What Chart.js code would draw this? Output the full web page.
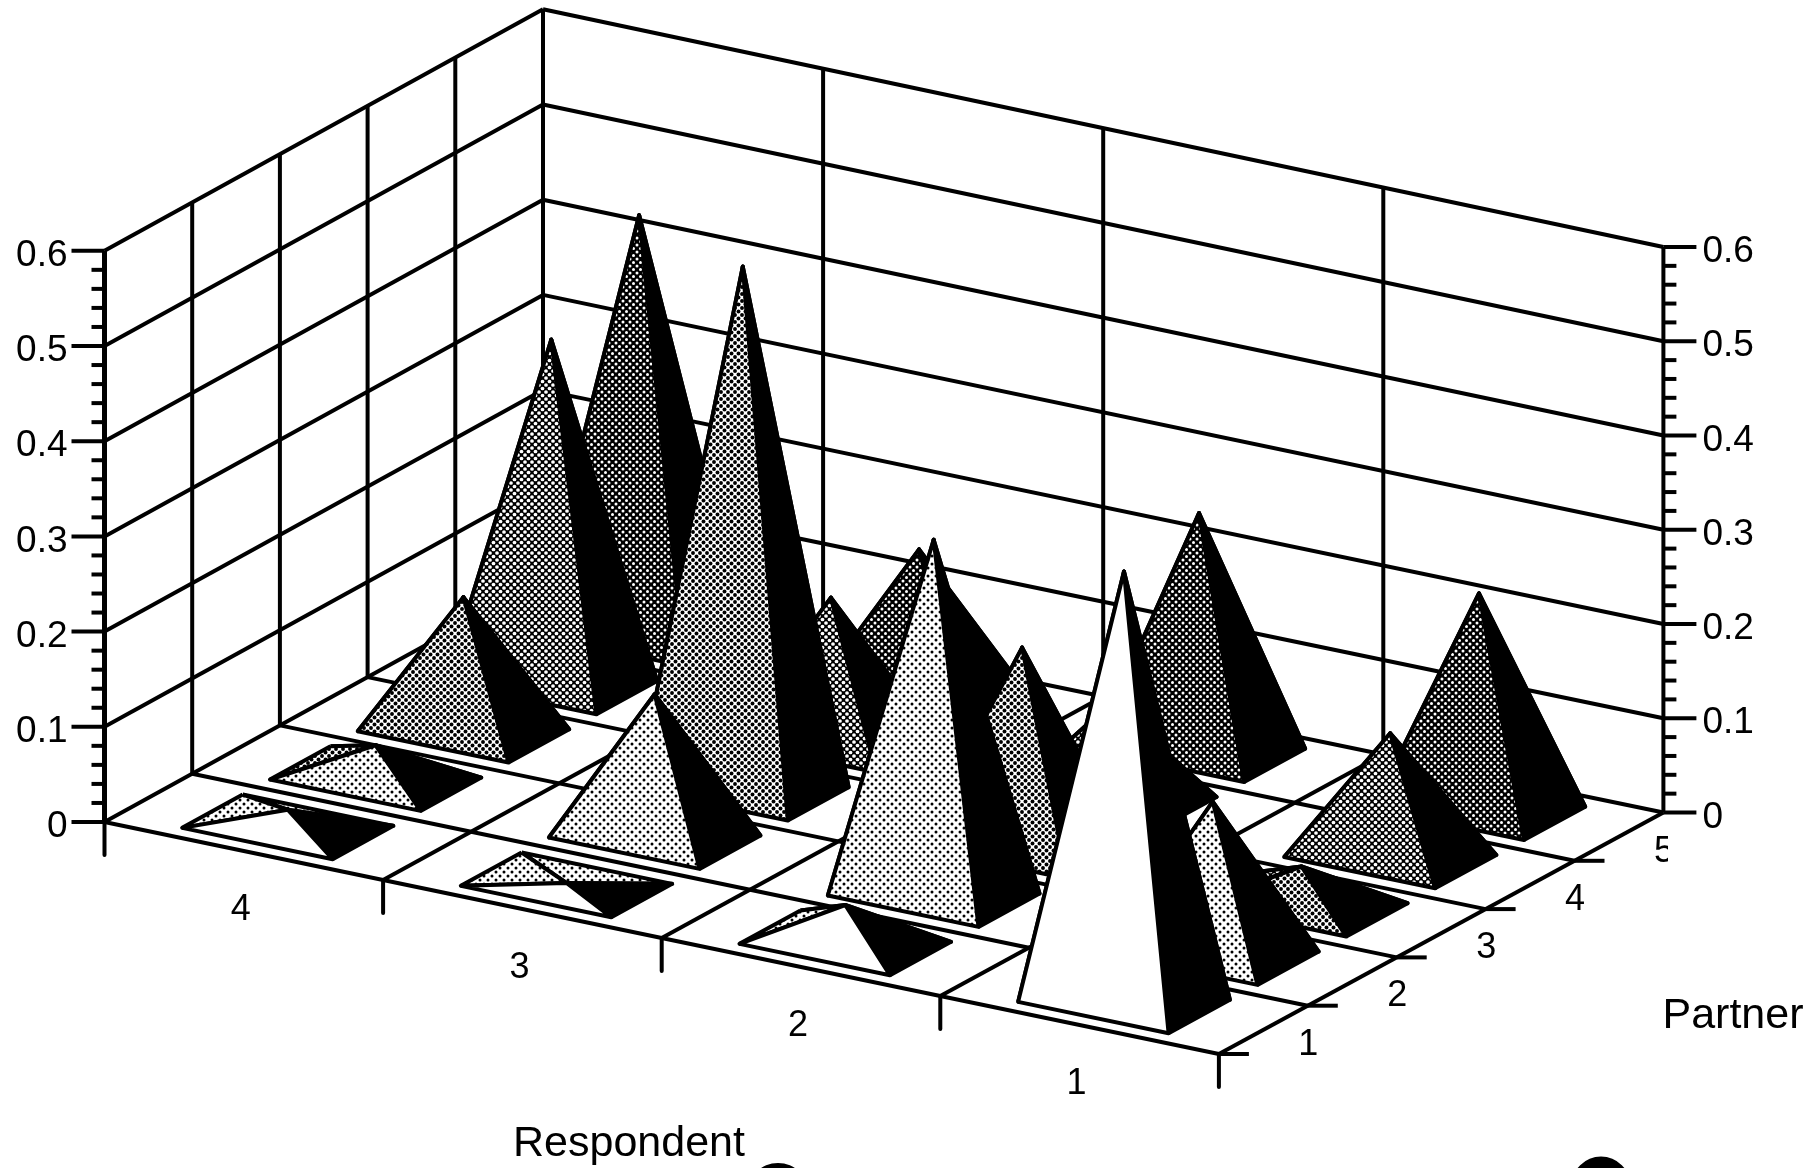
<!DOCTYPE html>
<html>
<head>
<meta charset="utf-8">
<title>Respondent / Partner</title>
<script src="https://cdn.jsdelivr.net/npm/chart.js@4/dist/chart.umd.min.js"></script>
<style>
  html, body { margin: 0; padding: 0; background: #fff; overflow: hidden; }
  canvas { display: block; }
</style>
</head>
<body>
<canvas id="chart" width="1820" height="1168"></canvas>
<script>
// values, one entry per partner (1..5)
const respondents = ["4", "3", "2", "1"];
const partners = ["1", "2", "3", "4", "5"];
const valueTicks = ["0", "0.1", "0.2", "0.3", "0.4", "0.5", "0.6"];
const respondent4 = [0.018, 0.035, 0.14, 0.36, 0.44];
const respondent3 = [0.002, 0.15, 0.55, 0.15, 0.15];
const respondent2 = [0.04, 0.375, 0.21, 0.1, 0.25];
const respondent1 = [0.455, 0.16, 0.04, 0.13, 0.227];
const valuesByRespondent = [respondent4, respondent3, respondent2, respondent1];

// projection of the box on the page, the small shear and shrink stand in for perspective
const origin = { x: 104.5, y: 822 };
const perRespondent = { x: 278.6, y: 58 };
const perPartner = { x: 87.7, y: -48.3 };
const perValue = 952;
const shear = 0.3;
const shrink = 0.0025;
const halfU = 0.27;
const halfW = 0.345;
const uMax = respondents.length;
const wMax = partners.length;

function project(u, w, v) {
    return {
        x: origin.x + u * perRespondent.x + w * perPartner.x + u * w * shear,
        y: origin.y + u * perRespondent.y + w * perPartner.y - v * perValue * (1 - shrink * u)
    };
}

function dots(size, dotColor, bgColor, r) {
    const c = document.createElement("canvas");
    c.width = size;
    c.height = size;
    const g = c.getContext("2d");
    g.fillStyle = bgColor;
    g.fillRect(0, 0, size, size);
    g.fillStyle = dotColor;
    [[0, 0], [size, 0], [0, size], [size, size], [size / 2, size / 2]].forEach(p => {
        g.beginPath();
        g.arc(p[0], p[1], r, 0, Math.PI * 2);
        g.fill();
    });
    return g.createPattern(c, "repeat");
}

// halftones, lightest to darkest
const shades = [
    "#ffffff",
    dots(8, "#000", "#fff", 1.5),
    dots(7, "#000", "#fff", 1.95),
    dots(7, "#fff", "#000", 1.85),
    dots(7, "#fff", "#000", 1.5),
    dots(7, "#fff", "#000", 1.2)
];

const datasets = [];

function addShape(points, fill, width) {
    datasets.push({
        data: points,
        borderColor: "#000",
        borderWidth: width,
        backgroundColor: fill || "transparent",
        fill: fill ? "shape" : false,
        pointRadius: 0,
        borderJoinStyle: "round",
        tension: 0,
        clip: false,
        order: -datasets.length
    });
}

function addLine(a, b, width) {
    addShape([a, b], null, width || 4);
}

// walls and floor
valueTicks.forEach((t, i) => {
    const v = Number(t);
    if (i > 0) {
        addLine(project(0, 0, v), project(0, wMax, v));
        addLine(project(0, wMax, v), project(uMax, wMax, v));
    }
});
for (let w = 1; w <= wMax; w++) addLine(project(0, w, 0), project(0, w, 0.6));
for (let u = 1; u <= uMax; u++) addLine(project(u, wMax, 0), project(u, wMax, 0.6));
for (let u = 0; u <= uMax; u++) addLine(project(u, 0, 0), project(u, wMax, 0));
for (let w = 0; w <= wMax; w++) addLine(project(0, w, 0), project(uMax, w, 0));

// value axes with their tick marks
addLine(project(0, 0, 0), project(0, 0, 0.6), 5);
for (let i = 0; i <= 30; i++) {
    const v = i / 50;
    const major = i % 5 === 0;
    const l = project(0, 0, v);
    const r = project(uMax, wMax, v);
    addLine({ x: l.x - (major ? 33 : 13), y: l.y }, l, 4);
    addLine(r, { x: r.x + (major ? 33 : 13), y: r.y }, 4);
}
for (let u = 0; u <= uMax; u++) {
    const p = project(u, 0, 0);
    addLine(p, { x: p.x, y: p.y + 33 }, 4);
}
for (let w = 0; w < wMax; w++) {
    const p = project(uMax, w, 0);
    addLine(p, { x: p.x + 30, y: p.y }, 4);
}

// pyramids, far ones first
for (let depth = -wMax; depth <= uMax; depth++) {
    valuesByRespondent.forEach((values, ri) => {
        values.forEach((value, pi) => {
            if (ri - pi - 1 !== depth) return;
            const u = ri + 0.5;
            const w = pi + 0.5;
            const fl = project(u - halfU, w - halfW, 0);
            const fr = project(u + halfU, w - halfW, 0);
            const br = project(u + halfU, w + halfW, 0);
            const bl = project(u - halfU, w + halfW, 0);
            const top = project(u, w, value);
            addShape([bl, br, top, bl], shades[pi + 1], 4);
            addShape([bl, fl, top, bl], shades[pi + 1], 4);
            addShape([fr, br, top, fr], "#000", 4);
            addShape([fl, fr, top, fl], shades[pi], 4);
        });
    });
}

const labelsPlugin = {
    id: "boxLabels",
    afterDraw(chart) {
        const ctx = chart.ctx;
        const sx = chart.scales.x;
        const sy = chart.scales.y;
        const text = (s, p, dx, dy, align, size) => {
            ctx.textAlign = align;
            ctx.font = size + 'px "Liberation Sans"';
            ctx.fillText(s, sx.getPixelForValue(p.x) + dx, sy.getPixelForValue(p.y) + dy);
        };
        ctx.save();
        ctx.fillStyle = "#000";
        ctx.textBaseline = "middle";
        valueTicks.forEach(t => {
            text(t, project(0, 0, Number(t)), -37, 5, "right", 37);
            text(t, project(uMax, wMax, Number(t)), 39, 5, "left", 37);
        });
        respondents.forEach((r, i) => text(r, project(i + 0.5, 0, 0), -3, 59, "center", 36));
        partners.forEach((p, i) => {
            ctx.save();
            if (i === 4) {
                // the last label is cut off in the scan
                ctx.beginPath();
                ctx.rect(1640, 830, 28, 50);
                ctx.clip();
            }
            text(p, project(uMax, i + 0.5, 0), 45, 15, "center", 36);
            ctx.restore();
        });
        text("Partner", { x: 1733, y: 1016 }, 0, 0, "center", 43);
        text("Respondent", { x: 629, y: 1144 }, 0, 0, "center", 43);
        ctx.beginPath();
        ctx.arc(sx.getPixelForValue(778), sy.getPixelForValue(1194), 31, 0, Math.PI * 2);
        ctx.arc(sx.getPixelForValue(1601), sy.getPixelForValue(1186), 29.5, 0, Math.PI * 2);
        ctx.fill();
        ctx.restore();
    }
};

new Chart(document.getElementById("chart"), {
    type: "line",
    data: { datasets: datasets },
    options: {
        responsive: false,
        animation: false,
        events: [],
        layout: { padding: 0 },
        plugins: { legend: { display: false }, tooltip: { enabled: false } },
        scales: {
            x: { type: "linear", min: 0, max: 1820, display: false },
            y: { type: "linear", min: 0, max: 1168, reverse: true, display: false }
        }
    },
    plugins: [labelsPlugin]
});
</script>
</body>
</html>
